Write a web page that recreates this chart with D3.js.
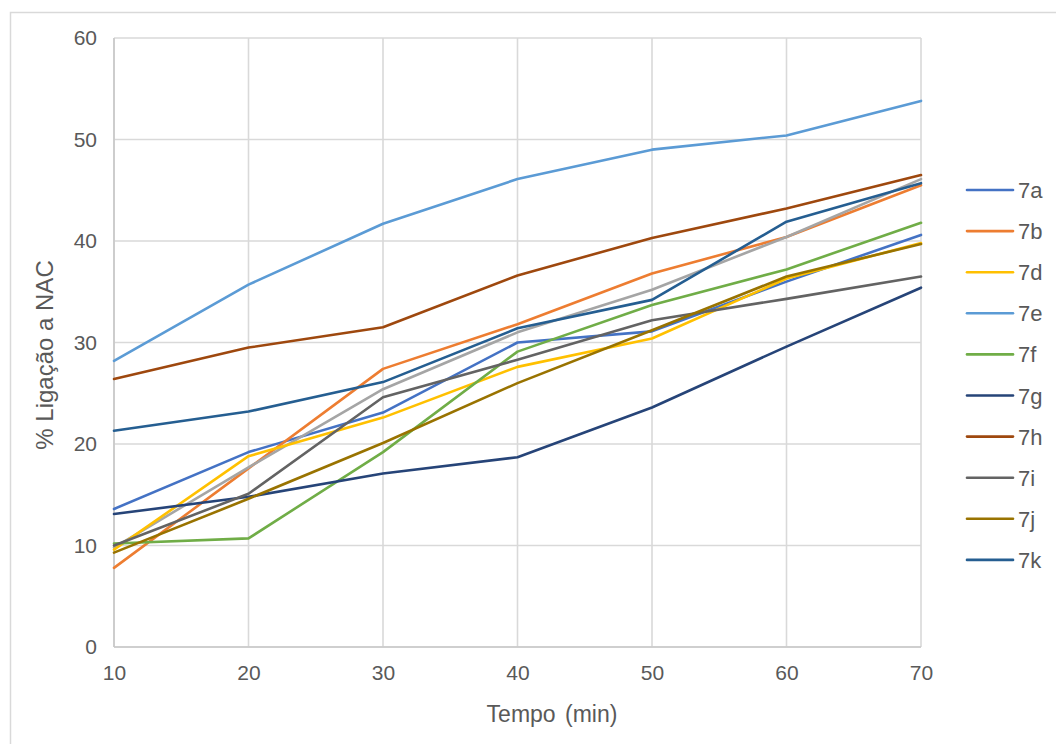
<!DOCTYPE html>
<html>
<head>
<meta charset="utf-8">
<script src="https://cdn.jsdelivr.net/npm/d3@7"></script>
<style>
body{margin:0;background:#fff;}
svg{display:block;font-family:"Liberation Sans",Arial,sans-serif;}
</style>
</head>
<body>
<svg id="chart" width="1056" height="744"></svg>
<script>
const times = [10, 20, 30, 40, 50, 60, 70];
const yTicks = [0, 10, 20, 30, 40, 50, 60];
const seriesNames = ["7a", "7b", "7c", "7d", "7e", "7f", "7g", "7h", "7i", "7j", "7k"];
const legendNames = ["7a", "7b", "7d", "7e", "7f", "7g", "7h", "7i", "7j", "7k"];
const colors = ["#4472C4", "#ED7D31", "#A5A5A5", "#FFC000", "#5B9BD5", "#70AD47", "#264478", "#9E480E", "#636363", "#997300", "#255E91"];
const v7a = [13.6, 19.2, 23.1, 30.0, 31.1, 36.0, 40.6];
const v7b = [7.8, 17.6, 27.4, 31.8, 36.8, 40.4, 45.5];
const v7c = [9.8, 17.7, 25.4, 31.0, 35.2, 40.4, 46.1];
const v7d = [9.6, 18.8, 22.6, 27.6, 30.4, 36.3, 39.8];
const v7e = [28.2, 35.7, 41.7, 46.1, 49.0, 50.4, 53.8];
const v7f = [10.2, 10.7, 19.2, 29.1, 33.7, 37.2, 41.8];
const v7g = [13.1, 14.8, 17.1, 18.7, 23.6, 29.6, 35.4];
const v7h = [26.4, 29.5, 31.5, 36.6, 40.3, 43.2, 46.5];
const v7i = [10.0, 15.1, 24.6, 28.3, 32.2, 34.3, 36.5];
const v7j = [9.3, 14.6, 20.1, 26.0, 31.2, 36.5, 39.7];
const v7k = [21.3, 23.2, 26.1, 31.4, 34.2, 41.9, 45.7];
const allValues = [v7a, v7b, v7c, v7d, v7e, v7f, v7g, v7h, v7i, v7j, v7k];

const svg = d3.select("#chart");
const L = 114, R = 921, T = 38, B = 647;
const x = d3.scaleLinear().domain([10, 70]).range([L, R]);
const y = d3.scaleLinear().domain([0, 60]).range([B, T]);
const textColor = "#595959";
const ff = "Liberation Sans, Arial, sans-serif";

// chart area border
svg.append("rect").attr("x", 10.5).attr("y", 12.5).attr("width", 1060).attr("height", 760)
  .attr("fill", "none").attr("stroke", "#d9d9d9").attr("stroke-width", 1.5);

// gridlines
const grid = svg.append("g");
grid.selectAll("line.h").data(yTicks).join("line")
  .attr("x1", L).attr("x2", R).attr("y1", d => y(d)).attr("y2", d => y(d))
  .attr("stroke", "#d9d9d9").attr("stroke-width", 1.6);
grid.selectAll("line.v").data(times).join("line")
  .attr("y1", T).attr("y2", B).attr("x1", d => x(d)).attr("x2", d => x(d))
  .attr("stroke", "#d9d9d9").attr("stroke-width", 1.6);
svg.append("line").attr("x1", L).attr("x2", R).attr("y1", B).attr("y2", B).attr("stroke", "#c8c8c8").attr("stroke-width", 1.6);
svg.append("line").attr("x1", L).attr("x2", L).attr("y1", T).attr("y2", B).attr("stroke", "#c8c8c8").attr("stroke-width", 1.6);

// axes (labels only)
const xAxis = svg.append("g").attr("transform", `translate(0,${B})`)
  .call(d3.axisBottom(x).tickValues(times).tickSize(0).tickPadding(18));
xAxis.select(".domain").remove();
xAxis.selectAll("text").attr("fill", textColor).attr("font-size", 21).attr("font-family", ff);
const yAxis = svg.append("g").attr("transform", `translate(${L},0)`)
  .call(d3.axisLeft(y).tickValues(yTicks).tickSize(0).tickPadding(17));
yAxis.select(".domain").remove();
yAxis.selectAll("text").attr("fill", textColor).attr("font-size", 21).attr("font-family", ff);

// axis titles
svg.append("text").attr("x", 552).attr("y", 722).attr("text-anchor", "middle")
  .attr("fill", textColor).attr("font-size", 23).attr("word-spacing", 3).text("Tempo (min)");
svg.append("text").attr("transform", `translate(53,355) rotate(-90)`).attr("text-anchor", "middle")
  .attr("fill", textColor).attr("font-size", 24).text("% Ligação a NAC");

// lines
const line = d3.line().x((d, i) => x(times[i])).y(d => y(d));
svg.append("g").selectAll("path").data(allValues).join("path")
  .attr("d", d => line(d)).attr("fill", "none")
  .attr("stroke", (d, i) => colors[i]).attr("stroke-width", 2.6)
  .attr("stroke-linejoin", "round").attr("stroke-linecap", "round");

// legend
const lg = svg.append("g");
const items = legendNames.map(n => ({name: n, color: colors[seriesNames.indexOf(n)]}));
const lgi = lg.selectAll("g").data(items).join("g")
  .attr("transform", (d, i) => `translate(0,${190 + i * 41.1})`);
lgi.append("line").attr("x1", 967).attr("x2", 1013).attr("y1", 0).attr("y2", 0)
  .attr("stroke", d => d.color).attr("stroke-width", 2.6).attr("stroke-linecap", "round");
lgi.append("text").attr("x", 1018).attr("y", 8).attr("fill", textColor).attr("font-size", 22).text(d => d.name);
</script>
</body>
</html>
